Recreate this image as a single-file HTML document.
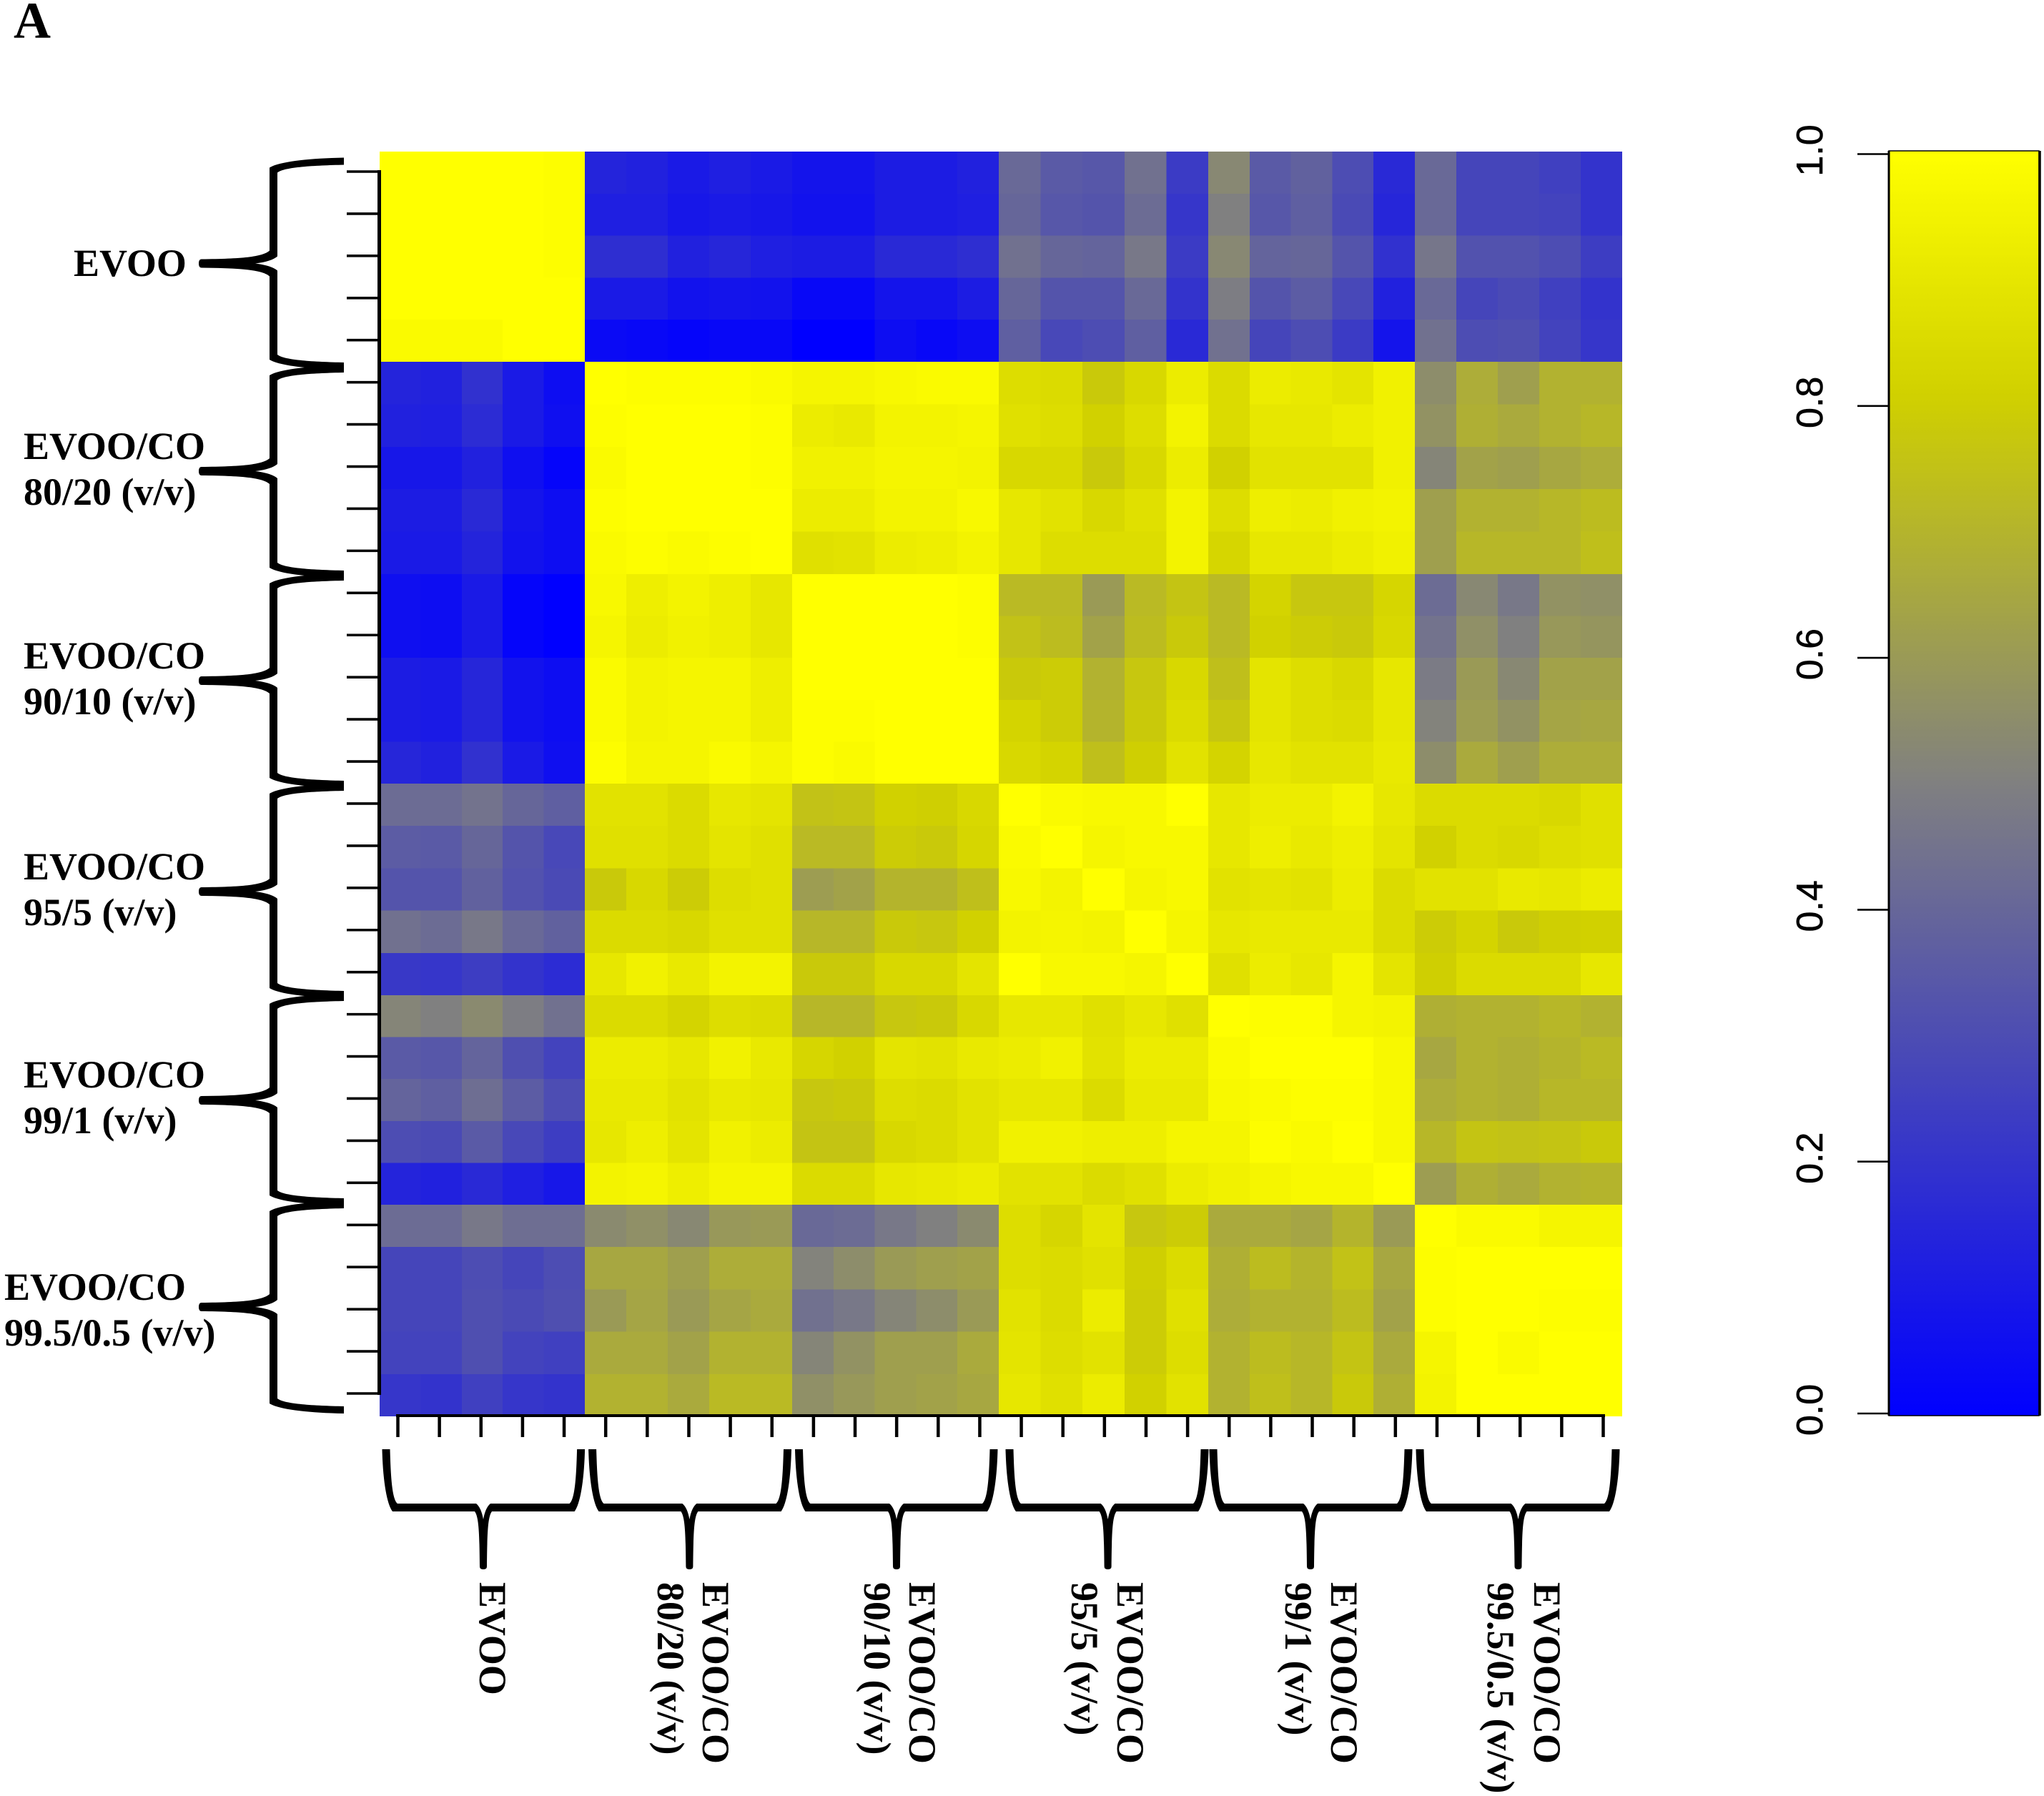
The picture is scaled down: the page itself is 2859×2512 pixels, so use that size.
<!DOCTYPE html>
<html lang="en">
<head>
<meta charset="utf-8">
<title>Correlation heatmap of EVOO and EVOO/CO blends</title>
<style>
html,body{margin:0;padding:0;background:#fff}
svg{display:block}
.lab{font-family:"Liberation Serif",serif;font-weight:bold;font-size:54px;fill:#000}
.cb{font-family:"Liberation Sans",sans-serif;font-size:52px;fill:#000;stroke:#000;stroke-width:.6px}
</style>
</head>
<body>
<svg id="chart" xmlns="http://www.w3.org/2000/svg" width="2859" height="2512" viewBox="0 0 2859 2512">
<rect x="0" y="0" width="2859" height="2512" fill="#fff"/>
<defs><linearGradient id="ramp" x1="0" y1="1" x2="0" y2="0"></linearGradient></defs>
<g id="cells" shape-rendering="crispEdges"></g>
<g id="axes"></g>
<g id="braces"></g>
<g id="bar"></g>

<text x="19" y="53" style="font-family:'Liberation Serif',serif;font-weight:bold;font-size:72px">A</text>

<text class="lab" x="103" y="386">EVOO</text>
<g><text class="lab" x="33" y="642">EVOO/CO</text><text class="lab" x="33" y="706">80/20 (v/v)</text></g>
<g><text class="lab" x="33" y="935">EVOO/CO</text><text class="lab" x="33" y="999">90/10 (v/v)</text></g>
<g><text class="lab" x="33" y="1230">EVOO/CO</text><text class="lab" x="33" y="1294">95/5 (v/v)</text></g>
<g><text class="lab" x="33" y="1521">EVOO/CO</text><text class="lab" x="33" y="1585">99/1 (v/v)</text></g>
<g><text class="lab" x="6" y="1818">EVOO/CO</text><text class="lab" x="6" y="1882">99.5/0.5 (v/v)</text></g>

<text class="lab" transform="translate(671,2213) rotate(90)">EVOO</text>
<g><text class="lab" transform="translate(983,2213) rotate(90)">EVOO/CO</text><text class="lab" transform="translate(920,2213) rotate(90)">80/20 (v/v)</text></g>
<g><text class="lab" transform="translate(1272,2213) rotate(90)">EVOO/CO</text><text class="lab" transform="translate(1209,2213) rotate(90)">90/10 (v/v)</text></g>
<g><text class="lab" transform="translate(1563,2213) rotate(90)">EVOO/CO</text><text class="lab" transform="translate(1499,2213) rotate(90)">95/5 (v/v)</text></g>
<g><text class="lab" transform="translate(1862,2213) rotate(90)">EVOO/CO</text><text class="lab" transform="translate(1798,2213) rotate(90)">99/1 (v/v)</text></g>
<g><text class="lab" transform="translate(2146,2213) rotate(90)">EVOO/CO</text><text class="lab" transform="translate(2081,2213) rotate(90)">99.5/0.5 (v/v)</text></g>
</svg>
<script>
const matrixValues = [
[1,1,1,1,.99,.14,.13,.10,.12,.10,.08,.08,.11,.11,.13,.41,.35,.34,.44,.23,.53,.35,.38,.30,.16,.41,.27,.27,.25,.20],
[1,1,1,1,.99,.12,.12,.09,.10,.09,.07,.07,.11,.11,.12,.40,.34,.33,.42,.21,.50,.34,.37,.29,.15,.41,.27,.27,.26,.20],
[1,1,1,1,.99,.18,.18,.13,.15,.12,.11,.11,.16,.16,.18,.44,.40,.39,.47,.23,.53,.39,.40,.33,.19,.46,.32,.32,.30,.24],
[1,1,1,1,1,.10,.10,.07,.08,.07,.03,.03,.08,.08,.11,.40,.33,.33,.41,.20,.49,.33,.36,.28,.13,.41,.27,.29,.25,.20],
[.98,.98,.98,1,1,.04,.03,.02,.03,.03,0,0,.05,.03,.05,.37,.28,.30,.37,.16,.44,.27,.30,.23,.08,.44,.30,.31,.26,.21],
[.14,.13,.19,.10,.05,1,.99,.99,.99,.98,.96,.96,.97,.98,.98,.86,.85,.78,.84,.92,.85,.92,.91,.89,.94,.55,.67,.62,.69,.69],
[.13,.12,.17,.10,.06,.99,1,1,1,.99,.92,.91,.95,.95,.96,.87,.86,.81,.86,.95,.85,.90,.90,.92,.94,.57,.68,.66,.69,.71],
[.09,.09,.13,.06,.02,.98,1,1,1,.99,.94,.94,.96,.96,.95,.84,.84,.78,.84,.92,.81,.88,.88,.88,.94,.52,.63,.62,.65,.67],
[.11,.11,.16,.08,.05,.99,1,1,1,1,.92,.92,.95,.95,.97,.90,.88,.84,.87,.95,.86,.93,.92,.94,.95,.62,.69,.69,.71,.73],
[.10,.10,.14,.07,.05,.98,.99,.98,.99,1,.87,.88,.92,.93,.95,.90,.86,.86,.86,.95,.83,.90,.90,.92,.94,.62,.71,.71,.71,.74],
[.06,.05,.10,.02,0,.97,.93,.95,.93,.90,1,1,1,1,.99,.72,.72,.60,.72,.76,.72,.82,.77,.77,.83,.42,.53,.47,.57,.56],
[.06,.05,.10,.02,0,.96,.92,.94,.93,.90,1,1,1,1,.99,.75,.73,.63,.73,.78,.72,.81,.79,.78,.84,.45,.56,.50,.59,.58],
[.11,.10,.15,.07,.05,.98,.95,.96,.96,.93,1,1,1,1,1,.78,.79,.69,.77,.84,.74,.89,.86,.84,.90,.48,.60,.53,.63,.63],
[.11,.10,.15,.07,.05,.98,.95,.96,.96,.93,.99,.99,1,1,1,.82,.79,.70,.78,.85,.77,.89,.86,.85,.90,.51,.61,.57,.64,.65],
[.15,.13,.19,.10,.06,.99,.96,.96,.98,.96,.99,.98,1,1,1,.84,.82,.74,.80,.88,.82,.90,.88,.88,.91,.55,.66,.62,.67,.67],
[.42,.42,.45,.40,.37,.88,.88,.85,.90,.89,.75,.76,.81,.80,.84,1,.98,.97,.97,1,.90,.92,.92,.95,.90,.85,.85,.85,.84,.87],
[.36,.35,.40,.33,.28,.87,.87,.85,.89,.87,.72,.72,.79,.78,.83,.98,1,.96,.97,.97,.90,.93,.91,.93,.89,.81,.85,.84,.86,.87],
[.33,.33,.38,.32,.29,.78,.84,.79,.86,.87,.61,.63,.70,.70,.74,.97,.95,1,.96,.97,.88,.89,.88,.92,.85,.88,.88,.91,.90,.92],
[.44,.42,.47,.41,.38,.85,.85,.84,.87,.87,.71,.71,.78,.77,.81,.95,.96,.95,1,.96,.90,.91,.91,.91,.85,.79,.82,.78,.80,.81],
[.22,.21,.24,.20,.17,.90,.94,.91,.95,.95,.78,.78,.84,.84,.89,1,.97,.97,.96,1,.87,.92,.90,.96,.89,.80,.85,.85,.85,.90],
[.52,.50,.54,.49,.44,.85,.85,.82,.86,.85,.71,.71,.77,.78,.84,.90,.90,.87,.90,.87,1,.99,.99,.96,.95,.68,.69,.69,.71,.69],
[.35,.34,.39,.31,.26,.92,.92,.90,.94,.91,.83,.81,.89,.88,.91,.92,.94,.88,.92,.92,.98,1,1,1,.97,.65,.69,.68,.70,.72],
[.39,.37,.43,.36,.30,.91,.91,.88,.91,.90,.77,.78,.86,.85,.88,.90,.90,.85,.91,.91,.97,.98,.99,.99,.97,.67,.69,.68,.71,.71],
[.30,.29,.35,.28,.24,.90,.93,.89,.94,.92,.76,.76,.84,.85,.88,.94,.94,.93,.93,.96,.96,.99,.98,1,.97,.71,.76,.75,.76,.78],
[.14,.13,.16,.12,.09,.95,.96,.93,.96,.96,.85,.85,.90,.91,.92,.88,.88,.85,.87,.92,.94,.96,.97,.97,1,.61,.68,.66,.69,.70],
[.42,.42,.47,.43,.43,.54,.56,.53,.59,.60,.41,.42,.47,.50,.54,.86,.83,.89,.77,.79,.66,.66,.64,.70,.60,1,.98,.98,.96,.96],
[.27,.27,.30,.27,.30,.65,.65,.62,.67,.67,.51,.55,.60,.62,.63,.86,.85,.87,.80,.85,.68,.73,.70,.75,.65,.99,1,1,1,1],
[.27,.27,.31,.29,.31,.60,.64,.60,.64,.66,.44,.47,.52,.55,.60,.88,.85,.92,.79,.87,.67,.69,.69,.73,.63,.99,1,1,.99,.99],
[.26,.26,.31,.26,.25,.66,.66,.63,.69,.69,.52,.57,.62,.62,.66,.89,.86,.88,.79,.86,.69,.73,.71,.76,.66,.96,1,.98,1,1],
[.21,.20,.25,.21,.20,.69,.69,.66,.72,.72,.56,.59,.62,.63,.65,.90,.87,.92,.81,.88,.69,.74,.71,.78,.68,.95,1,1,1,1]
];
const colorBarTicks = [0, 0.2, 0.4, 0.6, 0.8, 1];
const colorBarLabels = ['0.0', '0.2', '0.4', '0.6', '0.8', '1.0'];

const NS = 'http://www.w3.org/2000/svg';
const rowCount = matrixValues.length;
const colCount = matrixValues[0].length;
function make(tag, parent, attrs) {
  const el = document.createElementNS(NS, tag);
  for (const k in attrs) el.setAttribute(k, attrs[k]);
  parent.appendChild(el);
  return el;
}
const rampPos = [0, 0.5, 0.805, 1];
const rampRGB = [[0,0,255],[128,128,128],[208,208,0],[255,255,0]];
function colorOf(v) {
  let i = 0;
  while (i < rampPos.length - 2 && v > rampPos[i + 1]) i++;
  const t = Math.max(0, Math.min(1, (v - rampPos[i]) / (rampPos[i + 1] - rampPos[i])));
  const c = rampRGB[i].map((a, k) => Math.round(a + (rampRGB[i + 1][k] - a) * t));
  return 'rgb(' + c.join(',') + ')';
}
function bandScale(edges, size) {
  return i => {
    const g = Math.min(Math.floor(i / size), edges.length - 2);
    return edges[g] + (i - g * size) * (edges[g + 1] - edges[g]) / size;
  };
}
const cellX = bandScale([531, 818, 1108, 1397, 1690, 1979, 2269], 5);
const cellY = bandScale([212, 506, 803, 1096, 1392, 1685, 1981], 5);
const tickY = i => 240 + i * (1949 - 240) / (rowCount - 1);
const tickX = i => 556.5 + i * (2242.5 - 556.5) / (colCount - 1);
const barY = v => 1977 - v * (1977 - 215.5);

const cells = document.getElementById('cells');
matrixValues.forEach((row, r) => {
  row.forEach((v, c) => {
    const el = make('rect', cells, {
      x: cellX(c).toFixed(2), y: cellY(r).toFixed(2),
      width: (cellX(c + 1) - cellX(c)).toFixed(2),
      height: (cellY(r + 1) - cellY(r)).toFixed(2),
      fill: colorOf(v)
    });
    
    
  });
});

const axes = document.getElementById('axes');
const yLine = make('line', axes, {x1: 530.5, x2: 530.5, y1: tickY(0) - 2, y2: tickY(rowCount - 1) + 2, stroke: '#000', 'stroke-width': 5});


const xLine = make('line', axes, {x1: tickX(0) - 2.5, x2: tickX(colCount - 1) + 2.5, y1: 1980, y2: 1980, stroke: '#000', 'stroke-width': 4});


for (let i = 0; i < rowCount; i++) {
  const t = make('line', axes, {x1: 485, x2: 530, y1: tickY(i), y2: tickY(i), stroke: '#000', 'stroke-width': 3.6});
  
  
}
for (let i = 0; i < colCount; i++) {
  const t = make('line', axes, {x1: tickX(i), x2: tickX(i), y1: 1980, y2: 2010, stroke: '#000', 'stroke-width': 4.5});
  
  
}

function bracePath(axis, a0, a1, a2, p) {
  const pt = (a, v) => axis === 'left' ? v + ' ' + a : a + ' ' + v;
  const lv = t => p.v0 + (p.vO - p.v0) * t;
  const tv = t => p.vO + (p.vT - p.vO) * t;
  const nv = t => p.vI + (p.vN - p.vI) * t;
  const dir = p.vT > p.v0 ? 1 : -1;
  const vE = p.vT - 4 * dir;
  return 'M' + pt(a0 - p.h, p.v0)
    + ' C' + pt(a0 - p.h + 1, lv(.5)) + ' ' + pt(a0 + 1, lv(.88)) + ' ' + pt(a0 + 9, p.vO)
    + ' L' + pt(a1 - p.sp, p.vO)
    + ' C' + pt(a1 - p.sp * .5, tv(.1)) + ' ' + pt(a1 - p.th - .5, tv(.4)) + ' ' + pt(a1 - p.th, vE)
    + ' Q' + pt(a1 - p.th, p.vT) + ' ' + pt(a1, p.vT)
    + ' Q' + pt(a1 + p.th, p.vT) + ' ' + pt(a1 + p.th, vE)
    + ' C' + pt(a1 + p.th + .5, tv(.4)) + ' ' + pt(a1 + p.sp * .5, tv(.1)) + ' ' + pt(a1 + p.sp, p.vO)
    + ' L' + pt(a2 - 9, p.vO)
    + ' C' + pt(a2 - 1, lv(.88)) + ' ' + pt(a2 + p.h - 1, lv(.5)) + ' ' + pt(a2 + p.h, p.v0)
    + ' L' + pt(a2 - p.h, p.v0)
    + ' C' + pt(a2 - p.h - 1, lv(.4)) + ' ' + pt(a2 - 8, lv(.8)) + ' ' + pt(a2 - 16, p.vI)
    + ' L' + pt(a1 + p.ih, p.vI)
    + ' Q' + pt(a1 + p.ih * .3, nv(.25)) + ' ' + pt(a1, p.vN)
    + ' Q' + pt(a1 - p.ih * .3, nv(.25)) + ' ' + pt(a1 - p.ih, p.vI)
    + ' L' + pt(a0 + 16, p.vI)
    + ' C' + pt(a0 + 8, lv(.8)) + ' ' + pt(a0 + p.h + 1, lv(.4)) + ' ' + pt(a0 + p.h, p.v0)
    + ' Z';
}
const braces = document.getElementById('braces');
const leftShape = {v0: 481, vI: 388, vO: 377, vT: 278, vN: 357, h: 5, th: 6, sp: 18, ih: 10};
const bottomShape = {v0: 2027, vI: 2103, vO: 2114, vT: 2195, vN: 2125, h: 5.5, th: 5, sp: 12, ih: 10};
function drawBrace(name, axis, a0, a1, a2) {
  const el = make('path', braces, {d: bracePath(axis, a0, a1, a2, axis === 'left' ? leftShape : bottomShape), fill: '#000'});
  
  
}
drawBrace('row-brace-evoo', 'left', 225.5, 368.5, 512);
drawBrace('row-brace-80-20', 'left', 516, 659, 803);
drawBrace('row-brace-90-10', 'left', 807, 952, 1097);
drawBrace('row-brace-95-5', 'left', 1101, 1247, 1391);
drawBrace('row-brace-99-1', 'left', 1395, 1539, 1681);
drawBrace('row-brace-99-5-0-5', 'left', 1685, 1828, 1972);
drawBrace('col-brace-evoo', 'bottom', 540, 676, 812.6);
drawBrace('col-brace-80-20', 'bottom', 828.6, 964.4, 1101.5);
drawBrace('col-brace-90-10', 'bottom', 1117.5, 1254, 1390);
drawBrace('col-brace-95-5', 'bottom', 1412, 1549.6, 1685);
drawBrace('col-brace-99-1', 'bottom', 1697, 1833, 1970);
drawBrace('col-brace-99-5-0-5', 'bottom', 1986, 2123.5, 2260);

const ramp = document.getElementById('ramp');
for (let i = 0; i <= 100; i++) {
  make('stop', ramp, {offset: (i / 100).toFixed(2), 'stop-color': colorOf(i / 100)});
}
const bar = document.getElementById('bar');
const barRect = make('rect', bar, {x: 2642, y: 211, width: 210, height: 1769, fill: 'url(#ramp)', stroke: '#000', 'stroke-width': 1.5});


const barLeft = make('line', bar, {x1: 2642, x2: 2642, y1: 211, y2: 1980, stroke: '#000', 'stroke-width': 3});


const barRight = make('line', bar, {x1: 2853, x2: 2853, y1: 211, y2: 1980, stroke: '#000', 'stroke-width': 3.5});


colorBarTicks.forEach((v, i) => {
  const t = make('line', bar, {x1: 2598, x2: 2642, y1: barY(v), y2: barY(v), stroke: '#000', 'stroke-width': 2.6});
  
  
  const lab = make('text', bar, {class: 'cb', 'text-anchor': 'middle', transform: 'translate(2549,' + (barY(v) - 5) + ') rotate(-90)'});
  lab.textContent = colorBarLabels[i];
  
  
});
</script>
</body>
</html>
